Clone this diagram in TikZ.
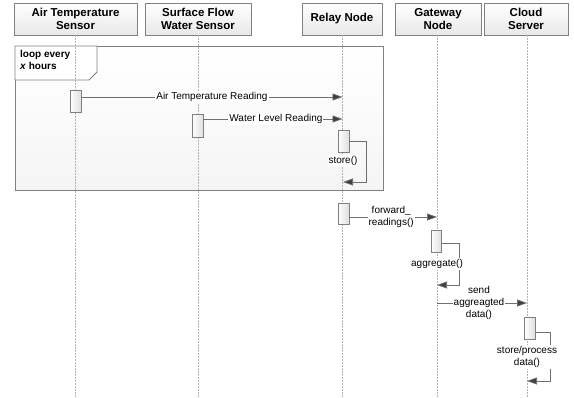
\documentclass[tikz,border=0pt]{standalone}
\usepackage{fontspec}
\setmainfont{Liberation Sans}
\usetikzlibrary{shadows,arrows.meta}
\definecolor{linegray}{HTML}{707070}
\definecolor{tipgray}{HTML}{404040}
\definecolor{boxborder}{HTML}{808080}
\tikzset{
  header/.style={draw=boxborder, line width=0.8pt, top color=white, bottom color=gray!18,
    drop shadow={shadow xshift=1pt, shadow yshift=-1pt, opacity=0.25},
    minimum height=32pt, inner sep=1pt, align=center,
    font=\fontsize{11.5}{13}\selectfont\bfseries},
  lifeline/.style={draw=gray!60, dashed, dash pattern=on 1.5pt off 1.5pt, line width=0.5pt},
  activation/.style={draw=boxborder, line width=0.7pt, left color=white, right color=gray!25,
    minimum width=11pt, minimum height=22pt, inner sep=0pt},
  msg/.style={draw=linegray, line width=0.7pt, -{Triangle[length=10pt,width=7pt,fill=tipgray]}},
  selfmsg/.style={draw=linegray, line width=0.7pt, -{Triangle[length=10pt,width=7pt,fill=tipgray]}},
  msglabel/.style={fill=white, inner sep=1pt, align=center, font=\fontsize{10}{12}\selectfont},
  framebox/.style={draw=boxborder, line width=0.9pt, top color=white, bottom color=gray!8},
}
\begin{document}
\begin{tikzpicture}[x=1pt,y=-1pt]
\useasboundingbox (0,0) rectangle (574,397);
% loop frame
\draw[framebox] (15,46) rectangle (383,190);
\draw[draw=boxborder, line width=0.8pt, fill=white] (15,46) -- (97,46) -- (97,72) -- (89,80) -- (15,80) -- cycle;
\node[anchor=north west, align=left, inner sep=0pt, font=\fontsize{10}{12}\selectfont\bfseries] (looplbl) at (20,50) {loop every\\\textit{x} hours};

% headers
\node[header, minimum width=123pt] (air) at (75.5,19) {Air Temperature\\Sensor};
\node[header, minimum width=106pt] (water) at (198,19) {Surface Flow\\Water Sensor};
\node[header, minimum width=80pt] (relay) at (342,19) {Relay Node};
\node[header, minimum width=86pt] (gw) at (438,19) {Gateway\\Node};
\node[header, minimum width=84pt] (cloud) at (526,19) {Cloud\\Server};

% lifelines
\coordinate (airEnd) at (75.5,397);
\coordinate (waterEnd) at (198,397);
\coordinate (relayEnd) at (342.5,397);
\coordinate (gwEnd) at (437,397);
\coordinate (cloudEnd) at (527,397);
\draw[lifeline] (air.south) -- (air.south |- airEnd);
\draw[lifeline] (water.south) -- (water.south |- waterEnd);
\draw[lifeline] (relay.south) -- (relay.south |- relayEnd);
\draw[lifeline] (gw.south -| gwEnd) -- (gwEnd);
\draw[lifeline] (cloud.south -| cloudEnd) -- (cloudEnd);

% activations
\node[activation] (a1) at (75.5,101) {};
\node[activation, minimum height=23pt] (w1) at (197.5,125.5) {};
\node[activation] (r1) at (343.5,141) {};
\node[activation, minimum height=21pt] (r2) at (343.5,213.5) {};
\node[activation, minimum width=10pt] (g1) at (436,241) {};
\node[activation] (c1) at (529.5,328) {};

% messages
\coordinate (relayA) at (342.5,97);
\coordinate (relayB) at (342.5,119);
\draw[msg] (a1.east |- relayA) -- node[msglabel] (m1) {Air Temperature Reading} (relayA);
\draw[msg] (w1.east |- relayB) -- node[msglabel, xshift=3pt] (m2) {Water Level Reading} (relayB);

% store self-call
\coordinate (s1a) at (366,141);
\coordinate (s1b) at (366,182);
\coordinate (s1c) at (343,182);
\draw[selfmsg] (r1.east |- s1a) -- (s1a) -- (s1b) -- (s1c);
\node[msglabel] (store) at (343,161) {store()};

% forward
\coordinate (gwA) at (437,217);
\draw[msg] (r2.east |- gwA) -- node[msglabel, xshift=-2pt] (m3) {forward\_\\readings()} (gwA);

% send aggregated data
\coordinate (gwB) at (437,303);
\coordinate (cloudA) at (527,303);
\draw[msg] (gwB) -- node[msglabel, xshift=-3pt] (m4) {send\\aggreagted\\data()} (cloudA);

% aggregate self-call
\coordinate (s2a) at (459,243);
\coordinate (s2b) at (459,285);
\coordinate (s2c) at (437,285);
\draw[selfmsg] (g1.east |- s2a) -- (s2a) -- (s2b) -- (s2c);
\node[msglabel] (agg) at (437,264) {aggregate()};

% store/process self-call
\coordinate (s3a) at (550,332);
\coordinate (s3b) at (550,381);
\coordinate (s3c) at (527,381);
\draw[selfmsg] (c1.east |- s3a) -- (s3a) -- (s3b) -- (s3c);
\node[msglabel] (sp) at (527,357) {store/process\\data()};
\end{tikzpicture}
\end{document}
